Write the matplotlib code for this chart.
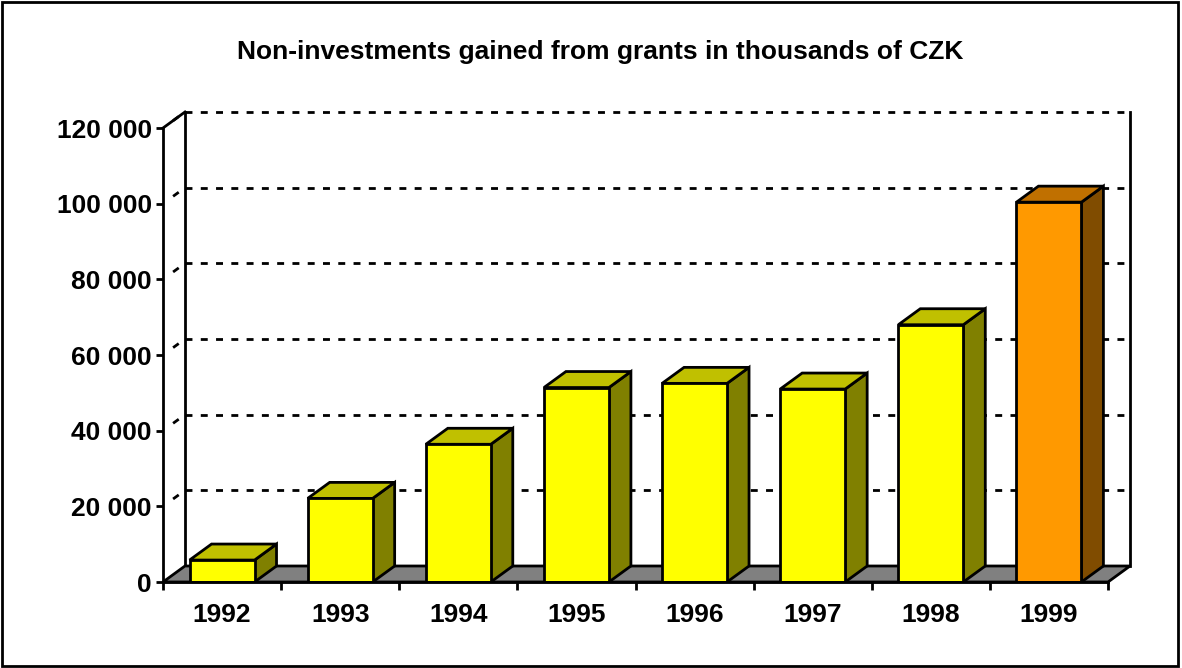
import matplotlib
matplotlib.use('Agg')
import matplotlib.pyplot as plt
from matplotlib.patches import Polygon, Rectangle

plt.rcParams['font.family'] = ['Liberation Sans', 'DejaVu Sans']
plt.rcParams['font.weight'] = 'bold'
plt.rcParams['lines.scale_dashes'] = False

years = ['1992', '1993', '1994', '1995', '1996', '1997', '1998', '1999']
values = [5800, 22100, 36400, 51400, 52500, 51000, 68000, 100400]
front_colors = ['#FFFF00'] * 7 + ['#FF9900']
top_colors = ['#C0C000'] * 7 + ['#C07000']
side_colors = ['#808000'] * 7 + ['#804C00']
yticks = [0, 20000, 40000, 60000, 80000, 100000, 120000]
title = 'Non-investments gained from grants in thousands of CZK'

# depth of the 3d box, in data units
dx = 0.186
dy = 4230
bar_w = 0.55
ymax = 120000
n = len(years)
lw = 2


def main():
    fig = plt.figure(figsize=(11.82, 6.68), dpi=100)
    ax = fig.add_axes([163 / 1182, 86 / 668, 967 / 1182, 470 / 668])
    ax.set_xlim(0, n + dx)
    ax.set_ylim(0, ymax + dy)

    # back wall gridlines and side wall dashes
    for v in yticks[1:]:
        ax.plot([dx, n + dx], [v + dy, v + dy], color='black', lw=lw,
                linestyle=(0, (5, 6)), zorder=1, clip_on=False)
        ax.plot([0, dx], [v, v + dy], color='black', lw=lw,
                linestyle=(-9, (5, 30)), zorder=1, clip_on=False)

    # walls
    ax.plot([dx, dx], [dy, ymax + dy], color='black', lw=lw, zorder=1, clip_on=False)
    ax.plot([0, dx], [ymax, ymax + dy], color='black', lw=lw, zorder=1, clip_on=False)
    ax.plot([n + dx, n + dx], [dy, ymax + dy], color='black', lw=lw, zorder=1, clip_on=False)

    # floor
    floor = Polygon([(0, 0), (n, 0), (n + dx, dy), (dx, dy)], closed=True,
                    facecolor='#808080', edgecolor='black', lw=lw, zorder=2, clip_on=False)
    ax.add_patch(floor)

    # bars
    for i, v in enumerate(values):
        x0 = i + 0.5 - bar_w / 2
        x1 = i + 0.5 + bar_w / 2
        side = Polygon([(x1, 0), (x1 + dx, dy), (x1 + dx, v + dy), (x1, v)], closed=True,
                       facecolor=side_colors[i], edgecolor='black', lw=lw, zorder=3)
        top = Polygon([(x0, v), (x1, v), (x1 + dx, v + dy), (x0 + dx, v + dy)], closed=True,
                      facecolor=top_colors[i], edgecolor='black', lw=lw, zorder=3)
        front = Rectangle((x0, 0), bar_w, v, facecolor=front_colors[i],
                          edgecolor='black', lw=lw, zorder=4)
        ax.add_patch(side)
        ax.add_patch(top)
        ax.add_patch(front)

    # axes
    for s in ['top', 'right']:
        ax.spines[s].set_visible(False)
    ax.spines['left'].set_bounds(0, ymax)
    ax.spines['bottom'].set_bounds(0, n)
    ax.spines['left'].set_linewidth(lw)
    ax.spines['bottom'].set_linewidth(lw)
    ax.spines['left'].set_zorder(5)
    ax.spines['bottom'].set_zorder(5)

    ax.set_yticks(yticks)
    ax.set_yticklabels(['{:,}'.format(v).replace(',', ' ') for v in yticks])
    ax.tick_params(axis='y', length=5, width=lw, pad=3, labelsize=19)

    ax.set_xticks(range(n + 1))
    ax.set_xticklabels([])
    ax.set_xticks([i + 0.5 for i in range(n)], minor=True)
    ax.set_xticklabels(years, minor=True)
    ax.tick_params(axis='x', which='major', length=6, width=lw)
    ax.tick_params(axis='x', which='minor', length=0, pad=15, labelsize=19)

    fig.text(600 / 1182, 1 - 52 / 668, title, ha='center', va='center',
             fontsize=19, fontweight='bold')

    # border round the chart
    fig.add_artist(Rectangle((0.002, 0.003), 0.995, 0.994, transform=fig.transFigure,
                             fill=False, edgecolor='black', lw=2))

    fig.savefig('out.png', dpi=100)


if __name__ == '__main__':
    main()
